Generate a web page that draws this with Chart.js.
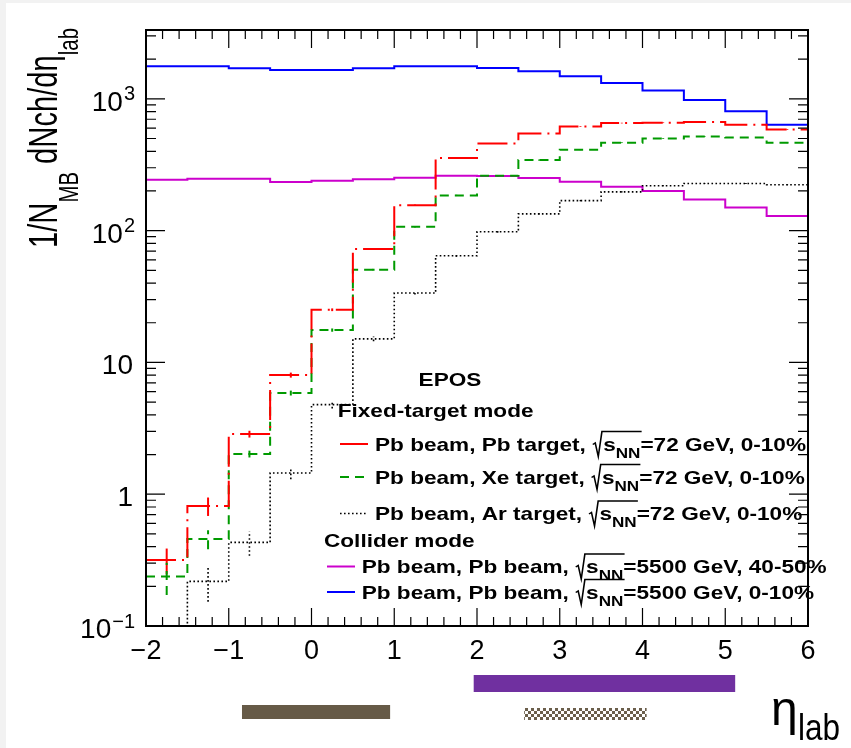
<!DOCTYPE html>
<html lang="en">
<head>
<meta charset="UTF-8">
<title>EPOS dNch/deta_lab</title>
<script src="https://cdn.jsdelivr.net/npm/chart.js"></script>
<style>
  html, body { margin: 0; padding: 0; background: #f2f2f2; }
  #etaChart { position: absolute; left: 6px; top: 3px; background: #fff; }
</style>
</head>
<body>
<canvas id="etaChart" width="845" height="745"></canvas>
<script>
// eta_lab bins (lower edges), width 0.5
const binLow = [-2, -1.5, -1, -0.5, 0, 0.5, 1, 1.5, 2, 2.5, 3, 3.5, 4, 4.5, 5, 5.5];
const binWidth = 0.5;

// fixed-target mode, sqrt(sNN) = 72 GeV, 0-10%
const pbPb72 = [0.317, 0.814, 2.86, 8.02, 25.1, 72.5, 156, 356, 459, 547, 618, 655, 659, 667, 636, 586];
const errPbPb72 = [0.07, 0.13, 0.17, 0.35, 0.6, 1.2, 1.8, 3, 3, 3.5, 4, 4, 4, 4, 4, 4];
const pbXe72 = [0.237, 0.457, 2.02, 5.86, 17.6, 50.5, 107, 185, 261, 343, 411, 465, 501, 519, 510, 465];
const errPbXe72 = [0.065, 0.075, 0.12, 0.25, 0.5, 0.9, 1.3, 2, 2.5, 3, 3, 3, 3.5, 3.5, 3.5, 3.5];
const pbAr72 = [0.1, 0.218, 0.431, 1.45, 4.78, 15.1, 33.6, 64.5, 98, 134, 169, 197, 219, 228, 228, 223];
const errPbAr72 = [0, 0.065, 0.09, 0.15, 0.3, 0.6, 0.9, 1.2, 1.5, 1.7, 2, 2, 2, 2, 2, 2];

// collider mode, sqrt(sNN) = 5500 GeV
const pbPb5500c4050 = [243, 248, 248, 234, 239, 245, 252, 261, 260, 251, 235, 215, 200, 172, 150, 129];
const pbPb5500c010 = [1765, 1765, 1705, 1658, 1658, 1705, 1765, 1765, 1717, 1618, 1482, 1320, 1155, 982, 804, 635];

// axis ticks
const xMin = -2, xMax = 6;
const yMin = 0.1, yMax = 3330;
const yTickValues = [0.1, 1, 10, 100, 1000];
const yTickBase = ['10', '1', '10', '10', '10'];
const yTickExp = ['\u22121', '', '', '2', '3'];

// acceptance bands below the axis (eta_lab ranges)
const bandFrom = [-0.84, 1.96, 2.57];
const bandTo = [0.95, 5.12, 4.05];

const FONT = '"Liberation Sans", Arial, Helvetica, sans-serif';

const series = [
  { values: pbPb72, errors: errPbPb72, color: '#ff0000', dash: [30, 6, 2, 6], width: 2 },
  { values: pbXe72, errors: errPbXe72, color: '#009a00', dash: [9, 6], width: 2 },
  { values: pbAr72, errors: errPbAr72, color: '#000000', dash: [1.6, 2.4], width: 1.6 },
  { values: pbPb5500c4050, errors: null, color: '#cc00cc', dash: [], width: 2 },
  { values: pbPb5500c010, errors: null, color: '#0000ff', dash: [], width: 2 }
];

function histPoints(vals) {
  const pts = binLow.map((lo, i) => ({ x: lo, y: vals[i] }));
  pts.push({ x: binLow[binLow.length - 1] + binWidth, y: vals[vals.length - 1] });
  return pts;
}

// rich text: parts of {t}, {s} (subscript), {rad:1}/{rad:0} (square root open/close)
function layoutRich(ctx, parts, mainFont, subFont) {
  let x = 0, r0 = 0;
  const items = [], rads = [];
  for (const p of parts) {
    if (p.rad === 1) { r0 = x; x += 9; }
    else if (p.rad === 0) { rads.push([r0, x]); }
    else {
      ctx.font = p.s ? subFont : mainFont;
      const txt = p.s || p.t;
      items.push({ x, txt, sub: !!p.s });
      x += ctx.measureText(txt).width;
    }
  }
  return { items, rads, width: x };
}

function drawRich(ctx, lay, mainFont, subFont, drop, radTop) {
  for (const it of lay.items) {
    ctx.font = it.sub ? subFont : mainFont;
    ctx.fillText(it.txt, it.x, it.sub ? drop : 0);
  }
  ctx.lineWidth = 1.3;
  for (const [r0, r1] of lay.rads) {
    ctx.beginPath();
    ctx.moveTo(r0 + 0.5, -6);
    ctx.lineTo(r0 + 2.5, -7.5);
    ctx.lineTo(r0 + 5, 6);
    ctx.lineTo(r0 + 8, radTop);
    ctx.lineTo(r1 + 1, radTop);
    ctx.stroke();
  }
}

function entryParts(a, b, energy, cent) {
  return [{ t: 'Pb beam, ' + a + ' ' + b + ', ' }, { rad: 1 }, { t: 's' }, { s: 'NN' }, { rad: 0 },
          { t: '=' + energy + ' GeV, ' + cent }];
}

const errorBars = {
  id: 'errorBars',
  afterDatasetsDraw(chart) {
    const { ctx, chartArea: a, scales: { x, y } } = chart;
    ctx.save();
    ctx.beginPath();
    ctx.rect(a.left, a.top, a.right - a.left, a.bottom - a.top);
    ctx.clip();
    chart.data.datasets.forEach(ds => {
      if (!ds.errors) return;
      ctx.strokeStyle = ds.borderColor;
      ctx.lineWidth = ds.borderWidth;
      ctx.setLineDash(ds.borderDash || []);
      binLow.forEach((lo, i) => {
        const e = ds.errors[i];
        if (!e) return;
        const v = ds.data[i].y;
        const px = x.getPixelForValue(lo + binWidth / 2);
        ctx.beginPath();
        ctx.moveTo(px, y.getPixelForValue(Math.max(v - e, yMin * 0.5)));
        ctx.lineTo(px, y.getPixelForValue(v + e));
        ctx.stroke();
      });
    });
    ctx.restore();
  }
};

const frameTicks = {
  id: 'frameTicks',
  afterDatasetsDraw(chart) {
    const { ctx, chartArea: a, scales: { x, y } } = chart;
    ctx.save();
    ctx.strokeStyle = '#000';
    ctx.lineWidth = 1.2;
    ctx.beginPath();
    for (let i = 0; i <= 40; i++) {
      const v = xMin + i * 0.2;
      const px = x.getPixelForValue(v);
      const len = i % 5 === 0 ? 18 : 9;
      ctx.moveTo(px, a.bottom); ctx.lineTo(px, a.bottom - len);
      ctx.moveTo(px, a.top); ctx.lineTo(px, a.top + len);
    }
    for (let k = -1; k <= 3; k++) {
      for (let m = 1; m <= 9; m++) {
        const v = m * Math.pow(10, k);
        if (v > yMax) continue;
        const py = y.getPixelForValue(v);
        const len = m === 1 ? 19 : 10;
        ctx.moveTo(a.left, py); ctx.lineTo(a.left + len, py);
        ctx.moveTo(a.right, py); ctx.lineTo(a.right - len, py);
      }
    }
    ctx.stroke();
    ctx.lineWidth = 2;
    ctx.strokeRect(a.left, a.top, a.right - a.left, a.bottom - a.top);
    ctx.restore();
  }
};

const decorations = {
  id: 'decorations',
  afterDraw(chart) {
    const { ctx, chartArea: a, scales: { x, y } } = chart;
    ctx.save();
    ctx.fillStyle = '#000';
    ctx.strokeStyle = '#000';

    // y tick labels with exponents
    ctx.textAlign = 'right';
    ctx.textBaseline = 'alphabetic';
    yTickValues.forEach((v, i) => {
      const py = y.getPixelForValue(v);
      const right = a.left - 11;
      let ew = 0;
      if (yTickExp[i]) {
        ctx.font = '20px ' + FONT;
        ew = ctx.measureText(yTickExp[i]).width + 1;
        ctx.fillText(yTickExp[i], right, py + 1.5);
      }
      ctx.font = '28px ' + FONT;
      ctx.fillText(yTickBase[i], right - ew - (ew ? 0 : 2), py + 12);
    });

    // y title
    ctx.textAlign = 'left';
    const tMain = '40px ' + FONT, tSub = '28px ' + FONT;
    const tParts = [{ t: '1/N' }, { s: 'MB' }, { t: ' dNch/d' }, { t: '\u03b7' }, { s: 'lab' }];
    const tLay = layoutRich(ctx, tParts, tMain, tSub);
    ctx.save();
    ctx.translate(51, 245);
    ctx.rotate(-Math.PI / 2);
    ctx.scale(220 / tLay.width, 1);
    drawRich(ctx, tLay, tMain, tSub, 21, -30);
    ctx.restore();

    // x title
    ctx.font = '48px ' + FONT;
    ctx.fillText('\u03b7', 765, 722);
    ctx.save();
    ctx.translate(792, 737);
    ctx.scale(0.875, 1);
    ctx.font = '36px ' + FONT;
    ctx.fillText('lab', 0, 0);
    ctx.restore();

    // legend
    const lMain = 'bold 18.5px ' + FONT, lSub = 'bold 14px ' + FONT;
    const entries = [
      { parts: entryParts('Pb', 'target', 72, '0-10%'), s: 0, tx: 369, base: 447.5, lx: 334 },
      { parts: entryParts('Xe', 'target', 72, '0-10%'), s: 1, tx: 369, base: 480.5, lx: 334 },
      { parts: entryParts('Ar', 'target', 72, '0-10%'), s: 2, tx: 369, base: 517, lx: 334 },
      { parts: entryParts('Pb', 'beam', 5500, '40-50%'), s: 3, tx: 355.7, base: 570, lx: 321 },
      { parts: entryParts('Pb', 'beam', 5500, '0-10%'), s: 4, tx: 355.7, base: 595.5, lx: 321 }
    ];
    const ref = layoutRich(ctx, entries[0].parts, lMain, lSub);
    const sx = 431 / ref.width;

    function plainText(txt, px, base, center) {
      ctx.font = lMain;
      const w = ctx.measureText(txt).width * sx;
      ctx.save();
      ctx.translate(center ? px - w / 2 : px, base);
      ctx.scale(sx, 1);
      ctx.fillText(txt, 0, 0);
      ctx.restore();
    }
    plainText('EPOS', 444, 382.5, true);
    plainText('Fixed-target mode', 331.7, 414.3, false);
    plainText('Collider mode', 318, 543.5, false);

    entries.forEach(en => {
      const st = series[en.s];
      ctx.save();
      ctx.strokeStyle = st.color;
      ctx.lineWidth = st.width;
      ctx.setLineDash(st.dash);
      ctx.beginPath();
      ctx.moveTo(en.lx, en.base - 6.5);
      ctx.lineTo(en.lx + 28, en.base - 6.5);
      ctx.stroke();
      ctx.restore();
      const lay = layoutRich(ctx, en.parts, lMain, lSub);
      ctx.save();
      ctx.translate(en.tx, en.base);
      ctx.scale(sx, 1);
      drawRich(ctx, lay, lMain, lSub, 7, -19);
      ctx.restore();
    });

    // acceptance bands under the axis
    const pc = document.createElement('canvas');
    pc.width = 6; pc.height = 6;
    const p = pc.getContext('2d');
    p.fillStyle = '#ffffff'; p.fillRect(0, 0, 6, 6);
    p.fillStyle = '#6b5f4c'; p.fillRect(0, 0, 3, 3); p.fillRect(3, 3, 3, 3);
    const bandFill = ['#665a47', '#7030a0', ctx.createPattern(pc, 'repeat')];
    const bandTop = [702, 672, 705];
    const bandH = [14, 17, 12];
    bandFrom.forEach((f, i) => {
      const x0 = x.getPixelForValue(f), x1 = x.getPixelForValue(bandTo[i]);
      ctx.fillStyle = bandFill[i];
      ctx.fillRect(x0, bandTop[i], x1 - x0, bandH[i]);
    });
    ctx.restore();
  }
};

const ctx = document.getElementById('etaChart').getContext('2d');
const chart = new Chart(ctx, {
  type: 'line',
  data: {
    datasets: series.map(s => ({
      data: histPoints(s.values),
      errors: s.errors,
      borderColor: s.color,
      borderWidth: s.width,
      borderDash: s.dash,
      stepped: 'before',
      pointRadius: 0,
      fill: false
    }))
  },
  options: {
    responsive: false,
    animation: false,
    devicePixelRatio: 1,
    layout: { padding: { left: 0, right: 43, top: 27, bottom: 0 } },
    plugins: { legend: { display: false }, tooltip: { enabled: false } },
    scales: {
      x: {
        type: 'linear', min: xMin, max: xMax,
        grid: { display: false, drawTicks: false },
        border: { display: false },
        ticks: {
          stepSize: 1, color: '#000', padding: 9, maxRotation: 0,
          font: { family: FONT, size: 27 },
          callback: v => (v < 0 ? '\u2212' + Math.abs(v) : String(v))
        },
        afterFit: s => { s.height = 122; }
      },
      y: {
        type: 'logarithmic', min: yMin, max: yMax,
        grid: { display: false, drawTicks: false },
        border: { display: false },
        ticks: { display: false },
        afterFit: s => { s.height; s.width = 140; }
      }
    }
  },
  plugins: [errorBars, frameTicks, decorations]
});
</script>
</body>
</html>
